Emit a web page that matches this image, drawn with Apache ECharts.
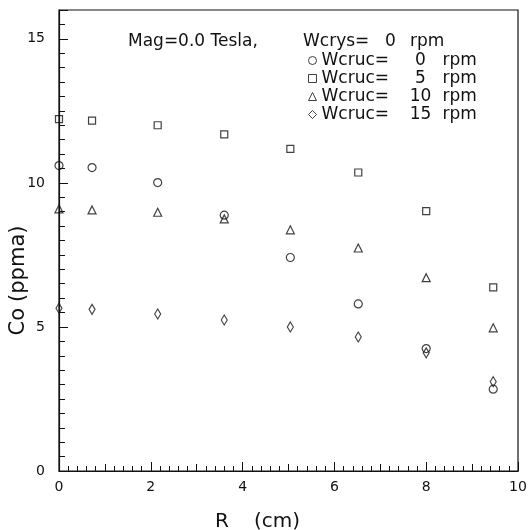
<!DOCTYPE html>
<html>
<head>
<meta charset="utf-8">
<script src="https://cdn.jsdelivr.net/npm/echarts@6/dist/echarts.min.js"></script>
<style>
  html, body { margin: 0; padding: 0; background: #fff; }
  #chart { width: 530px; height: 530px; }
</style>
</head>
<body>
<div id="chart"></div>
<script>
// radial positions R (cm)
var rPos = [0, 0.72, 2.15, 3.6, 5.04, 6.52, 8.0, 9.46];
// Co (ppma) for each crucible rotation
var co0 = [10.6, 10.53, 10.01, 8.88, 7.41, 5.8, 4.25, 2.84];
var co5 = [12.21, 12.16, 12.0, 11.68, 11.18, 10.36, 9.02, 6.37];
var co10 = [9.1, 9.06, 8.98, 8.75, 8.37, 7.74, 6.71, 4.97];
var co15 = [5.65, 5.61, 5.45, 5.24, 5.0, 4.65, 4.1, 3.1];
var crucRpm = [0, 5, 10, 15];
var seriesNames = crucRpm.map(function (v) { return "Wcruc=" + v + " rpm"; });

function pairs(ys) {
  return rPos.map(function (x, i) { return [x, ys[i]]; });
}

var font = "DejaVu Sans";
var ink = "#111";
var myChart = echarts.init(document.getElementById("chart"));

var hollow = { color: "transparent", borderColor: ink, borderWidth: 1.2 };
var iconStyle = { color: "transparent", borderColor: ink, borderWidth: 1 };
var txt = { fontFamily: font, fontSize: 17, fontWeight: "normal", color: ink };

var option = {
  animation: false,
  title: [
    { text: "Mag=0.0 Tesla,", left: 128, top: 33, padding: 0, textStyle: txt },
    { text: "Wcrys=", left: 303, top: 33, padding: 0, textStyle: txt },
    { text: "0", left: 385, top: 33, padding: 0, textStyle: txt },
    { text: "rpm", left: 410, top: 33, padding: 0, textStyle: txt }
  ],
  legend: {
    orient: "vertical",
    left: 308,
    top: 52,
    padding: 0,
    itemGap: 1,
    itemWidth: 8,
    itemHeight: 8,
    formatter: function (name) {
      var v = crucRpm[seriesNames.indexOf(name)];
      return "{a|Wcruc=}{b|" + v + "}{c|rpm}";
    },
    textStyle: {
      fontFamily: font,
      fontSize: 17,
      color: ink,
      rich: {
        a: { fontFamily: font, fontSize: 17, color: ink, width: 88, lineHeight: 18 },
        b: { fontFamily: font, fontSize: 17, color: ink, width: 22, align: "right", lineHeight: 18 },
        c: { fontFamily: font, fontSize: 17, color: ink, padding: [0, 0, 0, 11], lineHeight: 18 }
      }
    },
    data: [
      { name: seriesNames[0], icon: "circle", itemStyle: iconStyle },
      { name: seriesNames[1], icon: "rect", itemStyle: iconStyle },
      { name: seriesNames[2], icon: "triangle", itemStyle: iconStyle },
      { name: seriesNames[3], icon: "diamond", itemStyle: iconStyle }
    ]
  },
  grid: {
    left: 59,
    right: 12,
    top: 10,
    bottom: 59,
    outerBoundsMode: "none",
    show: true,
    borderColor: ink,
    borderWidth: 1.2,
    backgroundColor: "transparent"
  },
  xAxis: [
    {
      type: "value",
      min: 0,
      max: 10,
      interval: 2,
      name: "{a|R}{b|(cm)}{p| }",
      nameLocation: "middle",
      nameGap: 41,
      nameMoveOverlap: false,
      nameTextStyle: {
        fontFamily: font,
        fontSize: 20,
        color: ink,
        rich: {
          a: { fontFamily: font, fontSize: 20, color: ink, padding: [0, 25, 0, 0] },
          b: { fontFamily: font, fontSize: 20, color: ink },
          p: { fontFamily: font, fontSize: 20, width: 62 }
        }
      },
      axisLine: { show: true, lineStyle: { color: ink, width: 1.2 } },
      axisTick: { show: true, inside: true, length: 9, lineStyle: { color: ink } },
      minorTick: { show: true, splitNumber: 2, length: 7, lineStyle: { color: ink } },
      axisLabel: { fontFamily: font, fontSize: 14, color: ink, margin: 9, showMaxLabel: true },
      splitLine: { show: false }
    },
    {
      // fine ticks every 0.2 cm
      type: "value",
      position: "bottom",
      min: 0,
      max: 10,
      interval: 0.2,
      axisLine: { show: false },
      axisTick: { show: true, inside: true, length: 5, lineStyle: { color: ink } },
      axisLabel: { show: false },
      splitLine: { show: false }
    }
  ],
  yAxis: {
    type: "value",
    min: 0,
    max: 16,
    interval: 5,
    name: "{a|Co}{b|(ppma)}{p| }",
    nameLocation: "middle",
    nameGap: 30,
    nameMoveOverlap: false,
    nameTextStyle: {
      fontFamily: font,
      fontSize: 21,
      color: ink,
      rich: {
        a: { fontFamily: font, fontSize: 21, color: ink, padding: [0, 6, 0, 0] },
        b: { fontFamily: font, fontSize: 21, color: ink },
        p: { fontFamily: font, fontSize: 21, width: 80 }
      }
    },
    axisLine: { show: true, lineStyle: { color: ink, width: 1.2 } },
    axisTick: { show: true, inside: true, length: 9, lineStyle: { color: ink } },
    minorTick: { show: true, splitNumber: 10, length: 6, lineStyle: { color: ink } },
    axisLabel: { fontFamily: font, fontSize: 14, color: ink, margin: 14, showMaxLabel: false },
    splitLine: { show: false }
  },
  series: [
    { name: seriesNames[0], type: "scatter", symbol: "circle", symbolSize: 8, itemStyle: hollow, data: pairs(co0) },
    { name: seriesNames[1], type: "scatter", symbol: "rect", symbolSize: 7, itemStyle: hollow, data: pairs(co5) },
    { name: seriesNames[2], type: "scatter", symbol: "triangle", symbolSize: 8, itemStyle: hollow, data: pairs(co10) },
    { name: seriesNames[3], type: "scatter", symbol: "diamond", symbolSize: [6, 10], itemStyle: hollow, data: pairs(co15) }
  ]
};

myChart.setOption(option);
</script>
</body>
</html>
